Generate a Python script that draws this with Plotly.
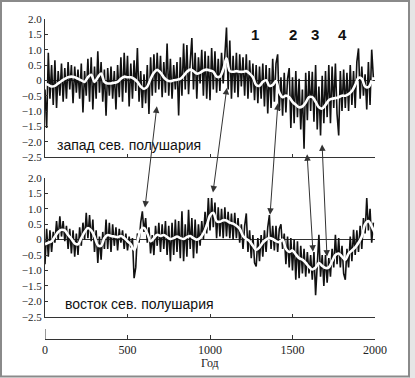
import plotly.graph_objects as go

# ---------------- data ----------------
years_raw = list(range(0, 2000, 10))

west_raw = [
    -0.3, -1.55, 0.9, -0.6, 0.5, -0.8, 0.65, -0.9, 0.3, -0.5,
    0.55, -0.7, 0.4, -0.6, 0.6, -0.3, 0.5, -0.75, 0.45, -0.4,
    0.35, -0.6, 0.55, -1.05, 0.3, -0.5, 0.7, -0.7, 0.75, -0.95,
    0.45, -0.6, 0.95, -0.4, 0.6, -0.7, 0.35, -1.15, 0.4, -0.5,
    0.45, -0.6, 0.3, -0.95, 0.5, -0.55, 0.75, -0.7, 0.9, -0.4,
    0.8, -0.85, 0.55, -0.6, 0.65, -0.35, 1.05, -0.7, 0.3, -0.9,
    0.2, -0.75, 0.5, -1.1, 0.75, -0.5, 0.85, -0.4, 0.9, -0.3,
    0.8, -0.55, 0.6, -0.4, 1.2, -0.5, 0.7, -0.6, 0.5, -0.3,
    0.6, -1.15, 0.75, -0.5, 1.2, -0.3, 1.15, -0.45, 0.6, 1.38,
    -0.3, 0.9, -0.6, 0.75, -0.1, 1.0, -0.5, 0.95, -0.6, 0.8,
    -0.65, 1.05, -0.3, 0.95, -0.4, 0.7, -0.35, 0.9, -0.1, 0.8,
    1.72, -0.3, 1.3, -0.6, 0.8, -0.4, 0.9, -0.55, 0.85, -0.2,
    0.75, -0.5, 0.85, -0.6, 0.65, -0.4, 0.55, -0.65, 0.5, -0.75,
    0.45, -0.6, 0.55, -0.85, 0.5, -1.08, 0.4, -0.9, 0.7, -0.7,
    0.55, 0.85, -1.0, 0.1, -1.15, 0.25, -1.05, 0.05, 0.4, -1.55,
    0.1, -1.4, 0.3, -1.2, 0.05, -1.6, -0.3, -2.23, 0.25, -1.3,
    0.3, -1.0, 0.28, -1.35, 0.5, -1.6, -0.2, -1.8, 0.15, -1.4,
    0.3, -1.2, 0.5, -1.4, 0.45, -0.9, 0.55, -1.1, -1.8, 0.3,
    -1.0, 0.35, -0.9, 0.25, -1.0, 0.5, -0.8, 0.3, -0.9, 0.6,
    1.04, -0.6, 0.45, -0.5, 0.2, -0.95, 0.6, -0.8, 1.0, 0.1,
]

east_raw = [
    -0.8, 0.35, -0.55, 0.3, -0.4, 0.25, -0.1, 0.6, 0.0, 0.76,
    0.1, 0.6, -0.05, 0.45, -0.3, 0.35, -0.45, 0.3, -0.55, 0.2,
    -0.5, 0.4, -0.2, 0.55, 0.0, 0.87, 0.05, 0.8, -0.05, 0.65,
    -0.4, 0.3, -0.76, 0.1, -0.65, 0.25, -0.3, 0.65, -0.3, 0.55,
    -0.4, 0.5, -0.2, 0.4, -0.35, 0.35, -0.1, 0.3, -0.3, 0.2,
    -0.35, 0.1, -0.25, 0.05, -1.25, -0.9, 0.2, -0.1, 0.55, 0.92,
    0.25, 0.7, -0.1, 0.4, -0.45, 0.15, -0.5, 0.45, -0.2, 0.55,
    -0.4, 0.5, -0.3, 0.6, -0.5, 0.45, -0.7, 0.55, -0.5, 0.65,
    -0.4, 0.6, -0.6, 0.92, -0.7, 0.5, -0.55, 0.97, -0.3, 0.7,
    -0.6, 0.65, -0.45, 0.5, -0.2, 0.6, 0.0, 0.9, 0.2, 1.35,
    0.3, 1.35, 0.4, 1.2, 0.05, 1.05, 0.1, 1.0, 0.05, 1.05,
    0.1, 0.9, 0.05, 0.85, 0.0, 0.87, 0.05, 0.7, -0.1, 0.5,
    -0.3, 0.45, 0.85, -0.4, 0.3, -0.6, 0.15, -0.75, -0.87, 0.05,
    -0.7, 0.15, -0.55, 0.3, -0.4, 0.4, 0.8, -0.3, 0.45, -0.35,
    0.45, -0.4, 0.35, 0.5, -0.3, 0.2, -0.8, 0.1, -0.9, 0.05,
    -1.0, 0.0, -1.3, -0.05, -1.25, -0.2, -1.1, -0.3, -1.2, -0.4,
    -1.1, -0.5, -1.3, -0.4, -1.8, -0.6, 0.16, -1.2, -0.5, -1.5,
    -0.5, -1.4, -0.6, -1.2, -0.3, -0.9, 0.16, -0.8, 0.05, -0.9,
    -0.2, -1.1, -1.3, -0.3, -0.9, 0.1, -0.7, 0.32, -0.5, 0.3,
    -0.4, 0.45, -0.3, 0.7, 0.2, 1.35, 0.3, 1.0, -0.1, 0.55,
]

years_smooth_w = list(range(0, 2000, 20))
west_smooth = [
    -0.1, -0.15, -0.2, -0.18, -0.1, -0.02, 0.05, 0.1, 0.12, 0.1,
    0.05, 0.0, -0.05, 0.1, 0.18, -0.05, 0.1, 0.22, -0.05, -0.1,
    -0.1, -0.08, -0.05, 0.05, 0.12, 0.1, 0.1, 0.05, -0.05, -0.2,
    -0.28, -0.2, 0.05, 0.25, 0.34, 0.25, 0.1, 0.0, -0.03, 0.0,
    0.02, 0.05, 0.15, 0.28, 0.35, 0.3, 0.22, 0.25, 0.32, 0.35,
    0.32, 0.28, 0.12, 0.12, 0.35, 0.72, 0.3, 0.28, 0.3, 0.28,
    0.28, 0.3, 0.22, 0.1, -0.15, -0.18, -0.05, 0.0, -0.18, -0.15,
    -0.02, -0.4, -0.55, -0.5, -0.55, -0.7, -0.8, -0.88, -0.85, -0.72,
    -0.55, -0.55, -0.7, -0.88, -0.92, -0.8, -0.65, -0.6, -0.58, -0.55,
    -0.5, -0.5, -0.45, -0.35, -0.15, 0.08, 0.05, -0.2, -0.22, 0.0,
]

years_smooth_e = list(range(0, 2001, 20))
east_smooth = [
    -0.15, -0.1, -0.05, 0.1, 0.25, 0.32, 0.3, 0.15, 0.03, -0.12,
    -0.15, 0.05, 0.25, 0.38, 0.3, 0.1, -0.18, -0.2, 0.05, 0.15,
    0.12, 0.1, 0.08, 0.12, 0.05, -0.05, -0.15, -0.33, -0.05, 0.3,
    0.38, 0.2, -0.05, 0.05, 0.16, 0.12, 0.15, 0.08, 0.02, 0.05,
    0.1, 0.05, 0.02, 0.08, 0.12, 0.05, 0.0, 0.05, 0.2, 0.45,
    0.78, 0.87, 0.6, 0.58, 0.63, 0.62, 0.55, 0.52, 0.45, 0.35,
    0.12, 0.02, -0.05, -0.2, -0.33, -0.25, -0.1, 0.0, 0.05, 0.02,
    -0.05, -0.08, 0.0, -0.3, -0.4, -0.35, -0.48, -0.6, -0.65, -0.75,
    -0.88, -0.97, -0.9, -0.76, -0.85, -0.92, -0.9, -0.7, -0.5, -0.45,
    -0.55, -0.65, -0.45, -0.35, -0.25, -0.1, 0.1, 0.5, 0.6, 0.43,
    0.2,
]

y_ticks = [-2.5, -2.0, -1.5, -1.0, -0.5, 0, 0.5, 1.0, 1.5, 2.0]
y_ticktext = ["\u22122.5", "\u22122.0", "\u22121.5", "\u22121.0", "\u22120.5",
              "0", "0.5", "1.0", "1.5", "2.0"]
x_ticks = [0, 500, 1000, 1500, 2000]

label_nums = ["1", "2", "3", "4"]
label_num_years = [1273, 1503, 1636, 1800]

# arrows: (year, value) in the west panel and in the east panel
arrow_top_years = [679, 1103, 1412, 1588, 1679]
arrow_top_vals = [-0.8, -0.2, -0.7, -2.36, -2.04]
arrow_bot_years = [606, 1018, 1364, 1624, 1709]
arrow_bot_vals = [1.04, 1.53, 0.81, -0.39, -0.55]

# ---------------- layout geometry ----------------
W, H = 415, 378
XL, XR = 45, 375
x_dom = [XL / W, XR / W]
top_dom = [(H - 157) / H, (H - 19) / H]
bot_dom = [(H - 316.7) / H, (H - 178) / H]
x3_pos = (H - 339) / H
Y_RANGE = [-2.5, 2.0]
X_RANGE = [0, 2000]


def to_px(yr, val, dom):
    px = XL + (yr - X_RANGE[0]) / (X_RANGE[1] - X_RANGE[0]) * (XR - XL)
    frac = dom[0] + (val - Y_RANGE[0]) / (Y_RANGE[1] - Y_RANGE[0]) * (dom[1] - dom[0])
    py = H - frac * H
    return px, py


fig = go.Figure()
fig.add_trace(go.Scatter(x=years_raw, y=west_raw, mode="lines",
                         line=dict(color="#111", width=1.6), xaxis="x", yaxis="y",
                         showlegend=False, hoverinfo="skip"))
fig.add_trace(go.Scatter(x=years_smooth_w, y=west_smooth, mode="lines",
                         line=dict(color="white", width=2.6, shape="spline", smoothing=1.0),
                         xaxis="x", yaxis="y", showlegend=False, hoverinfo="skip"))
fig.add_trace(go.Scatter(x=years_raw, y=east_raw, mode="lines",
                         line=dict(color="#111", width=1.6), xaxis="x2", yaxis="y2",
                         showlegend=False, hoverinfo="skip"))
fig.add_trace(go.Scatter(x=years_smooth_e, y=east_smooth, mode="lines",
                         line=dict(color="white", width=2.6, shape="spline", smoothing=1.0),
                         xaxis="x2", yaxis="y2", showlegend=False, hoverinfo="skip"))
fig.add_trace(go.Scatter(x=[None], y=[None], mode="lines", xaxis="x3", yaxis="y2",
                         showlegend=False, hoverinfo="skip"))

tick_font = dict(family="Liberation Serif, Times New Roman, serif", size=11, color="#222")

common_x = dict(range=X_RANGE, domain=x_dom, showgrid=False, zeroline=False,
                showline=True, linecolor="#333", linewidth=1, ticks="inside",
                ticklen=3, tickcolor="#333", tickvals=[500, 1000, 1500, 2000],
                showticklabels=False, fixedrange=True, automargin=False)
common_y = dict(range=Y_RANGE, showgrid=False, zeroline=True, zerolinecolor="#333",
                zerolinewidth=1, showline=True, linecolor="#333", linewidth=1,
                ticks="inside", ticklen=3, tickcolor="#333", tickvals=y_ticks,
                ticktext=y_ticktext, tickfont=tick_font, fixedrange=True,
                automargin=False)

fig.update_layout(
    width=W, height=H, autosize=False,
    margin=dict(l=0, r=0, t=0, b=0, autoexpand=False),
    paper_bgcolor="white", plot_bgcolor="rgba(0,0,0,0)",
    xaxis=dict(common_x, anchor="y"),
    yaxis=dict(common_y, domain=top_dom, anchor="x"),
    xaxis2=dict(common_x, anchor="y2"),
    yaxis2=dict(common_y, domain=bot_dom, anchor="x2"),
    xaxis3=dict(range=X_RANGE, domain=x_dom, anchor="free", position=x3_pos,
                overlaying="x2", showgrid=False, zeroline=False, showline=True,
                linecolor="#333", linewidth=1, ticks="inside", ticklen=4,
                tickcolor="#333", tickvals=x_ticks, automargin=False,
                tickfont=dict(family="Liberation Serif, Times New Roman, serif",
                              size=12, color="#222"), fixedrange=True),
)

annotations = []
annotations.append(dict(text="запад сев. полушария", x=61, y=-2.1, xref="x", yref="y",
                        xanchor="left", yanchor="middle", showarrow=False,
                        font=dict(family="Liberation Sans, Arial, sans-serif", size=14, color="#111")))
annotations.append(dict(text="восток сев. полушария", x=109, y=-2.08, xref="x2", yref="y2",
                        xanchor="left", yanchor="middle", showarrow=False,
                        font=dict(family="Liberation Sans, Arial, sans-serif", size=14, color="#111")))
for t, yr in zip(label_nums, label_num_years):
    annotations.append(dict(text="<b>" + t + "</b>", x=yr, y=1.51, xref="x", yref="y",
                            xanchor="center", yanchor="middle", showarrow=False,
                            font=dict(family="Liberation Sans, Arial, sans-serif", size=15, color="#111")))
annotations.append(dict(text="Год", x=1000, y=(H - 363) / H, xref="x3", yref="paper",
                        xanchor="center", yanchor="middle", showarrow=False,
                        font=dict(family="Liberation Serif, Times New Roman, serif", size=12, color="#222")))

for ty, tv, by, bv in zip(arrow_top_years, arrow_top_vals, arrow_bot_years, arrow_bot_vals):
    tx_px, ty_px = to_px(ty, tv, top_dom)
    bx_px, by_px = to_px(by, bv, bot_dom)
    annotations.append(dict(text="", x=by, y=bv, xref="x2", yref="y2",
                            ax=tx_px - bx_px, ay=ty_px - by_px, axref="pixel", ayref="pixel",
                            showarrow=True, arrowhead=2, startarrowhead=2, arrowside="end+start",
                            arrowwidth=1, arrowsize=1.3, startarrowsize=1.3,
                            arrowcolor="#333", standoff=0, startstandoff=0))

fig.update_layout(annotations=annotations)

shapes = [
    # taller end tick at 0 on the bottom year axis
    dict(type="line", xref="x3", yref="paper", x0=0, x1=0,
         y0=x3_pos, y1=x3_pos + 10 / H, line=dict(color="#333", width=1)),
    dict(type="rect", xref="paper", yref="paper", x0=409 / W, x1=1, y0=0, y1=1,
         fillcolor="#e6e6e6", line=dict(width=0), layer="above"),
    dict(type="rect", xref="paper", yref="paper", x0=1 / W, x1=409 / W, y0=1.5 / H, y1=(H - 1) / H,
         line=dict(color="#8a8a8a", width=2), fillcolor="rgba(0,0,0,0)", layer="above"),
]
fig.update_layout(shapes=shapes)

fig.write_html(
    "out.html",
    config={"displayModeBar": False, "staticPlot": True},
    post_script="document.body.style.margin='0';document.body.style.padding='0';"
                "document.documentElement.style.overflow='hidden';",
)
